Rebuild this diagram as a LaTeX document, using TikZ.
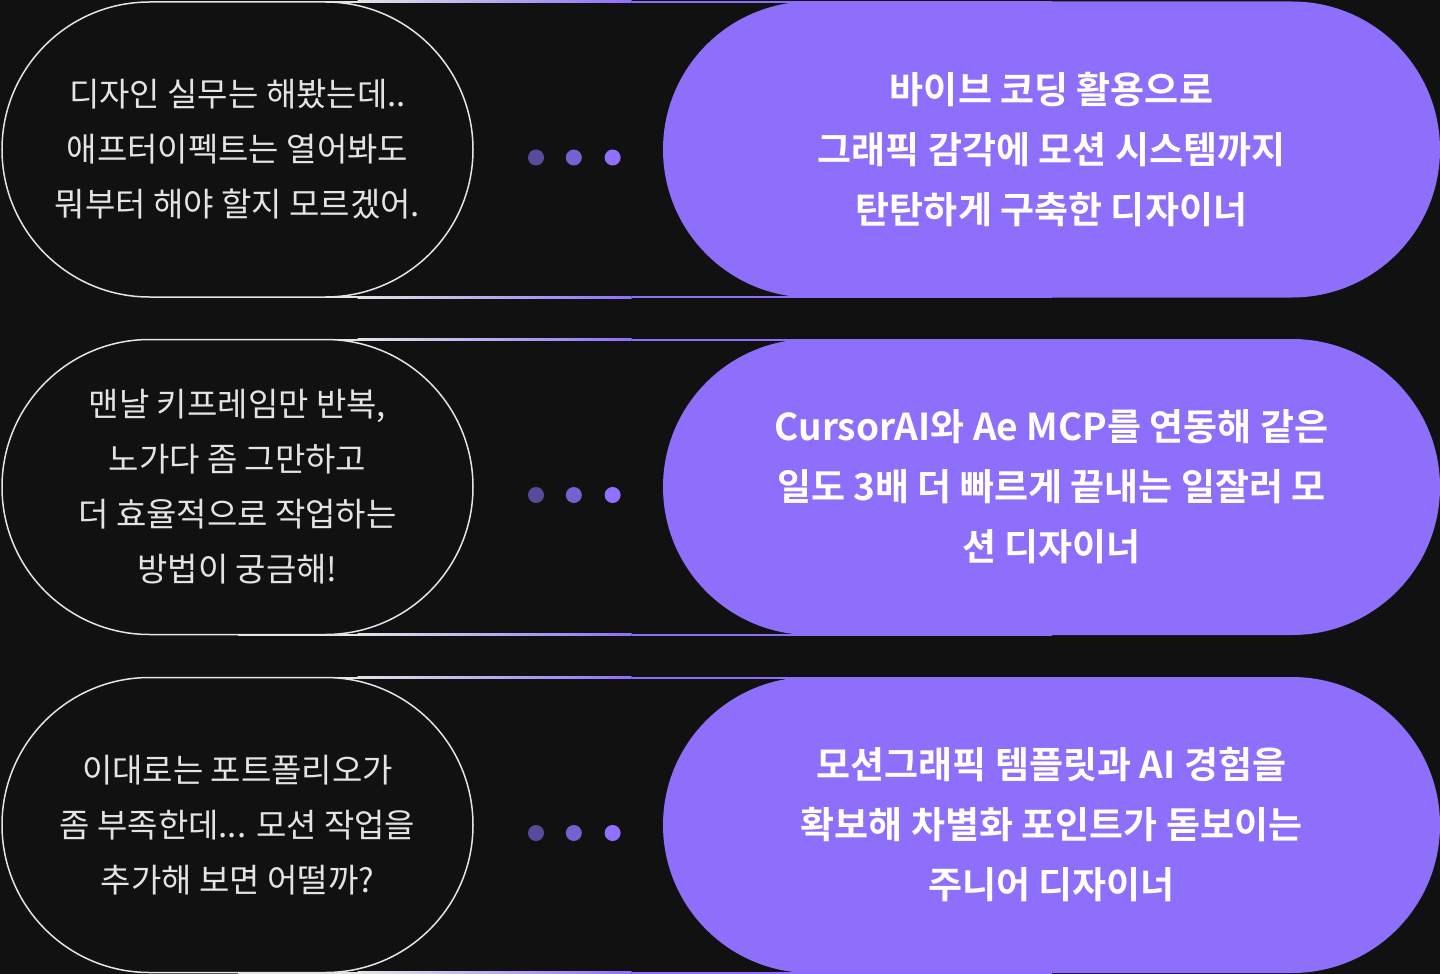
\documentclass[tikz,border=0pt]{standalone}
\usepackage{fontspec}
\setmainfont{Noto Sans CJK KR}[BoldFont={Noto Sans CJK KR Bold}]
\usetikzlibrary{shapes.misc, positioning, calc}
\definecolor{bgdark}{HTML}{111111}
\definecolor{violet}{HTML}{8E6FFB}
\definecolor{lineg}{HTML}{E4E4E4}
\definecolor{dotA}{HTML}{5A4A9C}
\definecolor{dotB}{HTML}{7660D2}
\definecolor{dotC}{HTML}{8F70FF}

\begin{document}
\begin{tikzpicture}[
    x=0.5pt, y=-0.5pt,
    ask_box/.style={rounded rectangle, draw=lineg, line width=0.75pt, minimum width=235.5pt, minimum height=147.5pt, align=center, text=lineg, font=\fontsize{16.5}{27.5}\selectfont, inner sep=0pt},
    goal_box/.style={rounded rectangle, fill=violet, minimum width=388.5pt, minimum height=148pt, align=center, text=white, font=\bfseries\fontsize{18.5}{30}\selectfont, inner sep=0pt},
    dot_mark/.style={circle, fill=#1, minimum size=8pt, inner sep=0pt}
]
\fill[bgdark] (0,0) rectangle (1440,974);

% --- rows ---
\foreach \i/\yy/\ask/\goal in {
  1/149.5/{디자인 실무는 해봤는데..\\애프터이펙트는 열어봐도\\뭐부터 해야 할지 모르겠어.}/{바이브 코딩 활용으로\\그래픽 감각에 모션 시스템까지\\탄탄하게 구축한 디자이너},
  2/487/{맨날 키프레임만 반복,\\노가다 좀 그만하고\\더 효율적으로 작업하는\\방법이 궁금해!}/{CursorAI와 Ae MCP를 연동해 같은\\일도 3배 더 빠르게 끝내는 일잘러 모\\션 디자이너},
  3/825/{이대로는 포트폴리오가\\좀 부족한데... 모션 작업을\\추가해 보면 어떨까?}/{모션그래픽 템플릿과 AI 경험을\\확보해 차별화 포인트가 돋보이는\\주니어 디자이너}}
{
  \coordinate (askC\i) at (237.5,\yy);
  \coordinate (goalC\i) at (1051.5,\yy);
  % connecting lines
  \shade[left color=lineg, right color=violet]
    ($(askC\i)+(120,-148.5)$) rectangle ($(goalC\i)+(-420,-146.5)$);
  \shade[left color=lineg, right color=violet]
    ($(askC\i)+(120,146.5)$) rectangle ($(goalC\i)+(-420,148.5)$);
  \fill[lineg] ($(askC\i)+(0,-148.5)$) rectangle ($(askC\i)+(120,-146.5)$);
  \fill[lineg] ($(askC\i)+(0,146.5)$) rectangle ($(askC\i)+(120,148.5)$);
  \fill[violet] ($(goalC\i)+(-420,-148.5)$) rectangle ($(goalC\i)+(0,-146.5)$);
  \fill[violet] ($(goalC\i)+(-420,146.5)$) rectangle ($(goalC\i)+(0,148.5)$);
  % boxes
  \node[ask_box, fill=bgdark] (ask\i) at (askC\i) {\ask};
  \node[goal_box] (goal\i) at (goalC\i) {\goal};
  % dots
  \node[dot_mark=dotA] (dotA\i) at (536,\yy+8) {};
  \node[dot_mark=dotB, right=10.5pt of dotA\i] (dotB\i) {};
  \node[dot_mark=dotC, right=11pt of dotB\i] (dotC\i) {};
}
\end{tikzpicture}
\end{document}
